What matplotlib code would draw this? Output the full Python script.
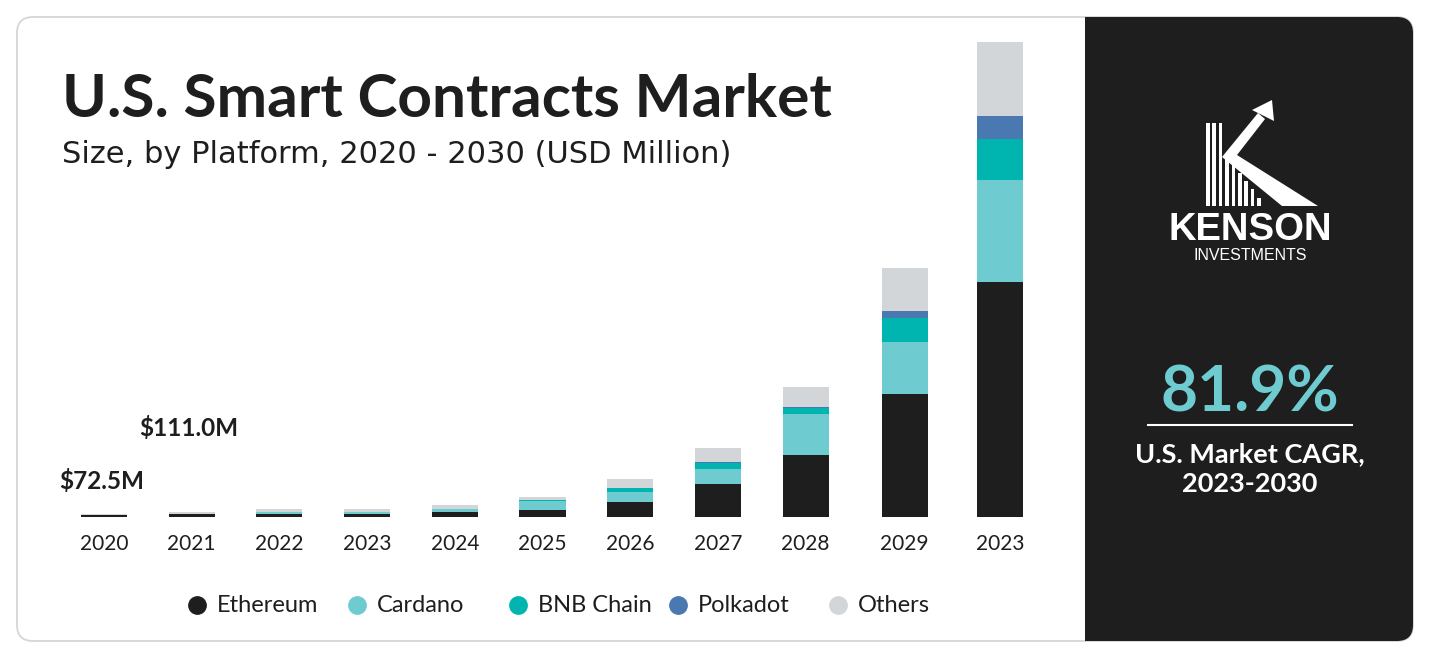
import matplotlib
matplotlib.use("Agg")
import matplotlib.pyplot as plt
from matplotlib.patches import FancyBboxPatch, Rectangle, Polygon
import numpy as np

# ---------------- data (USD Million) ----------------
years = ["2020", "2021", "2022", "2023", "2024", "2025", "2026", "2027", "2028", "2029", "2023"]
ethereum = [60.0, 90.0, 90, 92, 145, 205, 435, 957, 1798, 3567, 6815]
cardano = [5.0, 4.0, 55, 58, 90, 260, 290, 435, 1189, 1508, 2929]
bnb_chain = [2.0, 2.0, 4, 5, 3, 15, 116, 174, 174, 696, 1189]
polkadot = [1.0, 1.0, 1, 1, 1, 6, 10, 15, 20, 203, 667]
others = [4.5, 55.0, 85, 88, 115, 90, 260, 406, 580, 1218, 2146]
series_names = ["Ethereum", "Cardano", "BNB Chain", "Polkadot", "Others"]
series_colors = ["#1e1e1e", "#6ecbcf", "#00b5b0", "#4a78b0", "#d3d6d9"]
value_labels = ["$72.5M", "$111.0M"]
cagr_text = "81.9%"

# layout (slot positions in bar units; the last two slots are spaced wider)
slot_pos = [0, 1, 2, 3, 4, 5, 6, 7, 8, 9.13, 10.22]
label_offsets_pt = [24, 60]

W, H = 1430, 659
fig = plt.figure(figsize=(W / 100, H / 100), dpi=100)
fig.patch.set_facecolor("white")

bg = fig.add_axes([0, 0, 1, 1], zorder=0)
bg.set_xlim(0, W)
bg.set_ylim(H, 0)
bg.axis("off")

card = FancyBboxPatch((17, 17), 1396, 624, boxstyle="round,pad=0,rounding_size=16",
                      facecolor="white", edgecolor="#d6d6d6", linewidth=1.3)
bg.add_patch(card)
panel = FancyBboxPatch((1085, 17), 1413 - 1085, 624, boxstyle="round,pad=0,rounding_size=16",
                       facecolor="#1e1e1e", edgecolor="none")
bg.add_patch(panel)
bg.add_patch(Rectangle((1085, 17), 30, 624, facecolor="#1e1e1e", edgecolor="none"))

TF = "Lato"
bg.text(62, 117, "U.S. Smart Contracts Market", fontsize=43.5, fontweight="bold",
        family=TF, color="#1e1e1e", va="baseline", ha="left")
bg.text(62, 163, "Size, by Platform, 2020 - 2030 (USD Million)", fontsize=22,
        family="DejaVu Sans", color="#1e1e1e", va="baseline", ha="left")

# logo
for k in range(9):
    x0 = 1206 + k * 6.4
    if k < 3:
        top = 123
    else:
        top = 157 + (x0 - 1226) * 1.3
    bg.add_patch(Rectangle((x0, top), 3.6, 206 - top, facecolor="white", edgecolor="none"))
bg.add_patch(Polygon([(1222, 157), (1258, 113), (1265, 119), (1237, 155),
                      (1318, 206), (1282, 206)], closed=True, facecolor="white", edgecolor="none"))
bg.add_patch(Polygon([(1272, 100), (1252, 110), (1274, 121)], closed=True,
                     facecolor="white", edgecolor="none"))
bg.text(1250, 240, "KENSON", fontsize=27.5, fontweight="bold", family="Liberation Sans",
        color="white", ha="center", va="baseline")
bg.text(1250, 260, "INVESTMENTS", fontsize=11.5, family="Liberation Sans",
        color="white", ha="center", va="baseline")

bg.text(1250, 412, cagr_text, fontsize=46, fontweight="bold", family=TF,
        color="#6ecbcf", ha="center", va="baseline")
bg.plot([1148, 1352], [425, 425], color="white", lw=1.5)
bg.text(1250, 462, "U.S. Market CAGR,", fontsize=19.5, fontweight="bold", family=TF,
        color="white", ha="center", va="baseline")
bg.text(1250, 492, "2023-2030", fontsize=19.5, fontweight="bold", family=TF,
        color="white", ha="center", va="baseline")

# ---------------- chart ----------------
unit = 87.7
x_lo, x_hi = -0.6, 10.75
left_px = 104 + x_lo * unit
right_px = 104 + x_hi * unit
base_px, top_px = 517, 40
ax = fig.add_axes([left_px / W, (H - base_px) / H, (right_px - left_px) / W,
                   (base_px - top_px) / H], zorder=2)
ax.patch.set_alpha(0)

data = [ethereum, cardano, bnb_chain, polkadot, others]
x = np.array(slot_pos, dtype=float)
bottom = np.zeros(len(years))
for vals, name, col in zip(data, series_names, series_colors):
    ax.bar(x, vals, width=0.525, bottom=bottom, color=col, label=name, linewidth=0)
    bottom = bottom + np.array(vals, dtype=float)
totals = bottom

ax.set_xlim(x_lo, x_hi)
ax.set_ylim(0, totals.max() * 477 / 475)
ax.set_xticks(x)
ax.set_xticklabels(years, fontsize=15, family=TF, color="#1e1e1e")
ax.tick_params(axis="x", length=0, pad=12)
ax.set_yticks([])
for s in ax.spines.values():
    s.set_visible(False)

for i, txt in enumerate(value_labels):
    ax.annotate(txt, xy=(x[i], totals[i]), xytext=(-2, label_offsets_pt[i]),
                textcoords="offset points", ha="center", va="center",
                fontsize=17.5, fontweight="bold", family=TF, color="#1e1e1e")

# legend (evenly spaced entries)
leg_x0, leg_dx, leg_y = 197, 160.3, 605
for k, (name, col) in enumerate(zip(series_names, series_colors)):
    cx = leg_x0 + k * leg_dx
    bg.plot([cx], [leg_y], marker="o", markersize=12.5, color=col, linestyle="none")
    bg.text(cx + 20, leg_y + 1, name, fontsize=17, family=TF, color="#1e1e1e",
            ha="left", va="center")

fig.savefig("out.png", dpi=100)
